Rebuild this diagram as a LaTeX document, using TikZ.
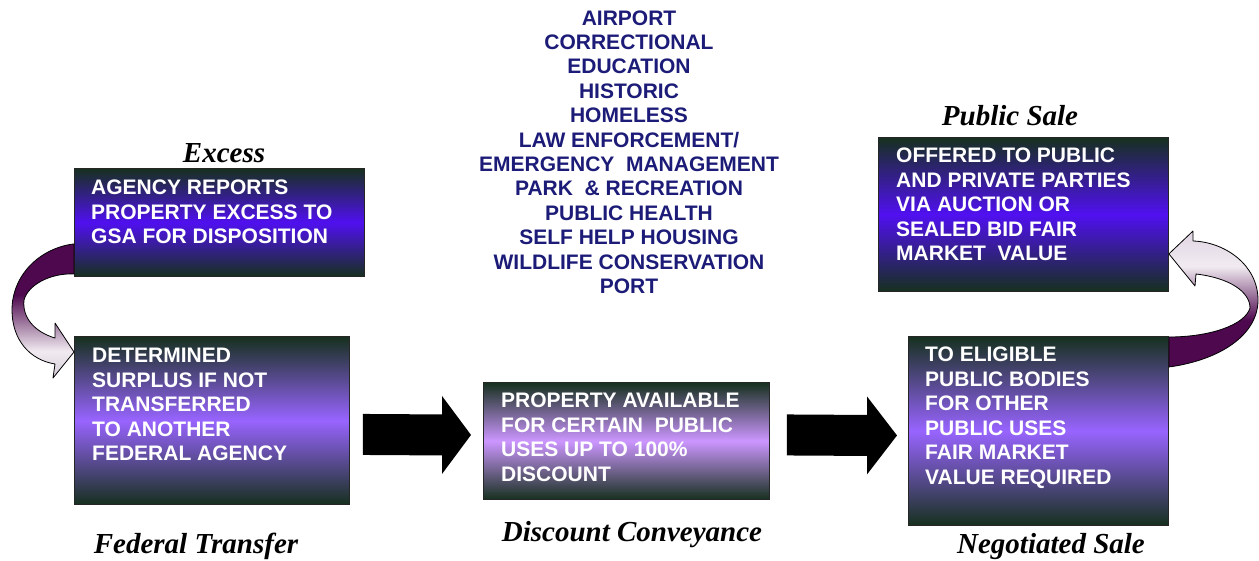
\documentclass[tikz,border=0pt]{standalone}
\usepackage{fontspec}
\setmainfont{Liberation Serif}
\setsansfont{Liberation Sans}
\usetikzlibrary{calc}
\definecolor{dk}{RGB}{22,48,30}
\definecolor{violetA}{RGB}{80,16,240}
\definecolor{violetB}{RGB}{152,100,255}
\definecolor{lilac}{RGB}{204,150,255}
\definecolor{plum}{RGB}{78,8,78}
\definecolor{headL}{RGB}{140,120,150}
\definecolor{headR}{RGB}{190,170,200}
\definecolor{navy}{RGB}{28,28,120}
\pgfdeclareverticalshading{curlL}{100bp}{color(0bp)=(headL); color(35bp)=(white!92!plum); color(56bp)=(plum); color(100bp)=(plum)}
\pgfdeclareverticalshading{curlR}{100bp}{color(0bp)=(plum); color(42bp)=(plum); color(62bp)=(white!92!plum); color(100bp)=(headR)}
\tikzset{
  box/.style={draw=black!85, line width=0.9pt, inner sep=0pt, anchor=north west},
  boxtext/.style={anchor=north west, inner sep=0pt, align=left, text=white,
    font=\sffamily\bfseries\fontsize{21}{24.5}\selectfont},
  lbl/.style={anchor=base, inner sep=0pt, font=\rmfamily\bfseries\itshape\fontsize{29}{31}\selectfont},
  uselist/.style={align=center, inner sep=0pt, text=navy,
    font=\sffamily\bfseries\fontsize{21}{24.4}\selectfont},
  blockarrow/.style={fill=black},
  curl/.style={draw=black, line width=0.8pt, line join=round}
}
\begin{document}
\begin{tikzpicture}[x=1pt,y=-1pt]
\useasboundingbox (0,0) rectangle (1259,560);
% boxes
\node[box, minimum width=290pt, minimum height=108pt, top color=dk, bottom color=dk, middle color=violetA] (b1) at (74,168) {};
\node[box, minimum width=275pt, minimum height=168pt, top color=dk, bottom color=dk, middle color=violetB] (b2) at (74,336) {};
\node[box, minimum width=286pt, minimum height=117pt, top color=dk, bottom color=dk, middle color=lilac] (b3) at (483,382) {};
\node[box, minimum width=290pt, minimum height=154pt, top color=dk, bottom color=dk, middle color=violetA] (b4) at (878,137) {};
\node[box, minimum width=260pt, minimum height=189pt, top color=dk, bottom color=dk, middle color=violetB] (b5) at (908,336) {};
% box texts
\node[boxtext] (t1) at ($(b1.north west)+(17,12)$) {AGENCY REPORTS\\PROPERTY EXCESS TO\\GSA FOR DISPOSITION};
\node[boxtext] (t2) at ($(b2.north west)+(18,12)$) {DETERMINED\\SURPLUS IF NOT\\TRANSFERRED\\TO ANOTHER\\FEDERAL AGENCY};
\node[boxtext] (t3) at ($(b3.north west)+(18,11)$) {PROPERTY AVAILABLE\\FOR CERTAIN\ \ PUBLIC\\USES UP TO 100\%\\DISCOUNT};
\node[boxtext] (t4) at ($(b4.north west)+(18,11)$) {OFFERED TO PUBLIC\\AND PRIVATE PARTIES\\VIA AUCTION OR\\SEALED BID FAIR\\MARKET\ \ VALUE};
\node[boxtext] (t5) at ($(b5.north west)+(17,11)$) {TO ELIGIBLE\\PUBLIC BODIES\\FOR OTHER\\PUBLIC USES\\FAIR MARKET\\VALUE REQUIRED};
% labels
\node[lbl] (l1) at (224,162) {Excess};
\node[lbl] (l2) at (196,553) {Federal Transfer};
\node[lbl] (l3) at (632,541) {Discount Conveyance};
\node[lbl] (l4) at (1010,125) {Public Sale};
\node[lbl] (l5) at (1051,553) {Negotiated Sale};
% list of uses
\node[uselist] (uses) at (629,152) {AIRPORT\\CORRECTIONAL\\EDUCATION\\HISTORIC\\HOMELESS\\LAW ENFORCEMENT/\\EMERGENCY\ \ MANAGEMENT\\PARK\ \ \& RECREATION\\PUBLIC HEALTH\\SELF HELP HOUSING\\WILDLIFE CONSERVATION\\PORT};
% block arrows
\coordinate (a1s) at ($(b2.east)+(13,14)$);
\coordinate (a1e) at ($(b3.west)+(-12,-6)$);
\fill[blockarrow] ($(a1s)+(0,-20.5)$) -- ($(a1e)+(-29,-20.5)$) -- ($(a1e)+(-29,-39)$) -- (a1e)
  -- ($(a1e)+(-29,39)$) -- ($(a1e)+(-29,20.5)$) -- ($(a1s)+(0,20.5)$) -- cycle;
\coordinate (a2s) at ($(b3.east)+(17,-6)$);
\coordinate (a2e) at ($(b5.west)+(-11,4.5)$);
\fill[blockarrow] ($(a2s)+(0,-20.5)$) -- ($(a2e)+(-30,-20.5)$) -- ($(a2e)+(-30,-39)$) -- (a2e)
  -- ($(a2e)+(-30,39)$) -- ($(a2e)+(-30,20.5)$) -- ($(a2s)+(0,20.5)$) -- cycle;
% curled arrows
\coordinate (c1s) at ($(b1.south west)+(0,-33)$);
\coordinate (c1i) at ($(b1.south west)+(0,-3)$);
\coordinate (c1t) at ($(b2.north west)+(0,16)$);
\shadedraw[curl, shading=curlL] (c1s) .. controls (40,248) and (12,275) .. (12,310)
  .. controls (12,340) and (30,360) .. (55,364) -- (53,378) -- (c1t) -- (55,323) -- (55,338)
  .. controls (35,332) and (22,318) .. (24,300) .. controls (28,285) and (50,273) .. (c1i) -- cycle;
\coordinate (c2s) at ($(b5.north east)+(0,31)$);
\coordinate (c2i) at ($(b5.north east)+(0,1)$);
\coordinate (c2t) at ($(b4.south east)+(0,-38)$);
\shadedraw[curl, shading=curlR] (c2s) .. controls (1220,360) and (1258,335) .. (1258,300)
  .. controls (1258,265) and (1225,242) .. (1193,241) -- (1193,231) -- (c2t) -- (1195,286) -- (1196,274)
  .. controls (1230,278) and (1250,292) .. (1250,308) .. controls (1245,325) and (1210,337) .. (c2i) -- cycle;
\end{tikzpicture}
\end{document}
